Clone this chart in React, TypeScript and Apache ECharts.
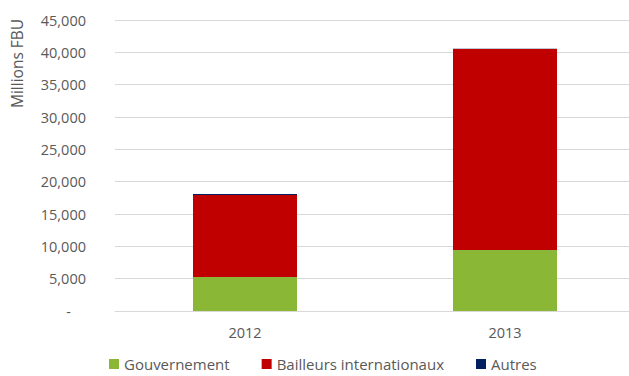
import React, { useEffect, useRef } from "react";
import * as echarts from "echarts";

const categories = ["2012", "2013"];
const gouvernement = [5250, 9430];
const bailleurs = [12700, 31080];
const autres = [150, 50];
const seriesNames = ["Gouvernement", "Bailleurs internationaux", "Autres"];
const colors = ["#8BB736", "#C00000", "#002060"];

export default function App() {
  const ref = useRef<HTMLDivElement>(null);
  useEffect(() => {
    if (!ref.current) return;
    const chart = echarts.init(ref.current, undefined, { renderer: "svg" });
    const font = "'Open Sans', sans-serif";
    const data = [gouvernement, bailleurs, autres];
    chart.setOption({
      animation: false,
      textStyle: { fontFamily: font },
      grid: { left: 115, right: 0, top: 20, bottom: 65 },
      legend: {
        top: 351,
        left: 104,
        itemWidth: 10,
        itemHeight: 10,
        itemGap: 32,
        icon: "rect",
        textStyle: { color: "#595959", fontSize: 15, lineHeight: 16, fontFamily: font },
        data: seriesNames,
      },
      xAxis: {
        type: "category",
        data: categories,
        axisLine: { lineStyle: { color: "#D9D9D9" } },
        axisTick: { show: false },
        axisLabel: { color: "#595959", fontSize: 14.5, margin: 14, fontFamily: font },
      },
      yAxis: {
        type: "value",
        min: 0,
        max: 45000,
        interval: 5000,
        axisLine: { show: false },
        axisTick: { show: false },
        splitLine: { lineStyle: { color: "#D9D9D9" } },
        axisLabel: {
          color: "#595959",
          fontSize: 14.5,
          margin: 29,
          fontFamily: font,
          formatter: (v: number) =>
            v === 0 ? "-    " : v.toLocaleString("en-US"),
        },
      },
      graphic: [
        {
          type: "text",
          x: 9,
          y: 108,
          rotation: Math.PI / 2,
          style: {
            text: "Millions FBU",
            fill: "#595959",
            fontSize: 15.5,
            fontFamily: font,
          },
        },
      ],
      series: seriesNames.map((name, i) => ({
        name,
        type: "bar",
        stack: "total",
        barWidth: "40%",
        itemStyle: { color: colors[i] },
        data: data[i],
      })),
    });
    return () => chart.dispose();
  }, []);
  return (
    <div
      style={{
        position: "absolute",
        left: 0,
        top: 0,
        width: 629,
        height: 376,
        overflow: "hidden",
      }}
    >
      <div ref={ref} style={{ width: 635, height: 376 }} />
    </div>
  );
}
